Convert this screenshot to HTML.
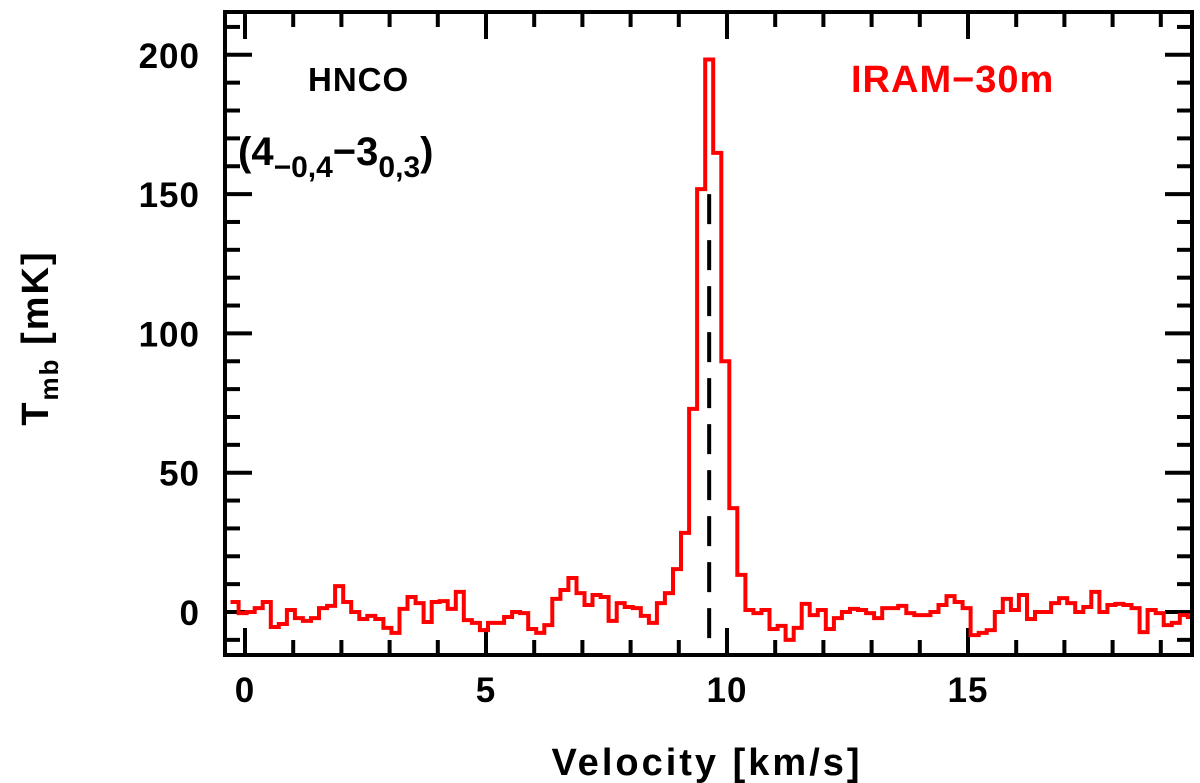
<!DOCTYPE html>
<html><head><meta charset="utf-8"><style>
html,body{margin:0;padding:0;background:#fff;}
svg{display:block;font-family:"Liberation Sans",sans-serif;}
</style></head><body>
<svg id="chart" width="1200" height="783" viewBox="0 0 1200 783" xmlns="http://www.w3.org/2000/svg">
<defs><clipPath id="plotclip"><rect x="227" y="14" width="963" height="639"/></clipPath></defs>
<g id="ticks"></g>
<g id="series" clip-path="url(#plotclip)"></g>
<rect x="225" y="12" width="967" height="643" fill="none" stroke="#000" stroke-width="4"/>
<g id="labels" font-size="35" font-weight="bold" fill="#000" letter-spacing="1"></g>
<text x="308" y="91" font-size="33" font-weight="bold" letter-spacing="1" fill="#000">HNCO</text>
<text x="238" y="165" font-size="40" font-weight="bold" fill="#000">(4<tspan font-size="30" dy="12">−0,4</tspan><tspan dy="-12">−3</tspan><tspan font-size="30" dy="12">0,3</tspan><tspan dy="-12">)</tspan></text>
<text x="851" y="92" font-size="38" font-weight="bold" letter-spacing="1" fill="#ff0000">IRAM−30m</text>
<text x="707" y="775" font-size="38" font-weight="bold" letter-spacing="3" text-anchor="middle" fill="#000">Velocity [km/s]</text>
<text transform="translate(48,338) rotate(-90)" font-size="38" font-weight="bold" letter-spacing="2" text-anchor="middle" fill="#000">T<tspan font-size="26" dy="10">mb</tspan><tspan dy="-10"> [mK]</tspan></text>
</svg>
<script>
const xTicksMajor = [0, 5, 10, 15];
const yTicksMajor = [0, 50, 100, 150, 200];
const channelStart = -0.30;
const channelWidth = 0.1669;
const lineVelocity = 9.63;
const tmbValues = [3.6,
 -0.4,0,1.4,3.6,-5.4,-4.3,0.7,-2.2,-3.2,-2.2,1.4,2.2,9.3,3.6,0,-2.5,-1.4,-2.5,-5.7,-7.5,
 1.1,5.4,3.2,-3.6,3.6,3.9,1.1,7.2,-2.9,-3.9,-6.5,-3.9,-3.9,-1.8,0,-0.4,-6.1,-7.5,-4.7,
 4.7,7.9,12.2,6.8,2.5,6.1,5.4,-3.2,3.2,1.8,1.4,-1.4,-3.9,3.2,6.8,15.4,
 28.4,72.9,151.8,198.3,164.8,90,37.3,13.3,
 0.7,-0.4,0.7,-6.1,-5,-10,-5.7,2.9,-1.1,0.7,-6.1,-2.2,0,1.1,0.7,-0.4,-2.2,1.4,1.4,2.2,
 -0.4,-1.1,-1.1,0,2.5,5.7,3.6,1.4,-8.3,-7.5,-6.5,0,4.7,0.7,6.1,-2.5,0,0,3.2,5,3.2,0,
 1.8,7.2,0,2.5,2.9,2.5,1.4,-7.2,0.7,-0.4,-4.7,-3.9,-1.1,-1.8];

const L=225,R=1192,T=12,B=655;
function xs(v){return 245 + v*48.2;}
function ys(t){return 612 - t*2.786;}
const NS="http://www.w3.org/2000/svg";
function mk(tag,attrs,parent){const e=document.createElementNS(NS,tag);for(const k in attrs)e.setAttribute(k,attrs[k]);parent.appendChild(e);return e;}

const tg=document.getElementById('ticks');
const lg=document.getElementById('labels');
for(let v=0; v<=19; v++){
  const maj = v%5===0, len = maj?27:15, x=xs(v);
  const a=mk('line',{x1:x,x2:x,y1:B,y2:B-len,stroke:'#000','stroke-width':4},tg);
  
  
  const b=mk('line',{x1:x,x2:x,y1:T,y2:T+len,stroke:'#000','stroke-width':4},tg);
  
  
}
for(let t=-10; t<=210; t+=10){
  const maj = t%50===0, len = maj?27:15, y=ys(t);
  const a=mk('line',{x1:L,x2:L+len,y1:y,y2:y,stroke:'#000','stroke-width':4},tg);
  
  
  const b=mk('line',{x1:R,x2:R-len,y1:y,y2:y,stroke:'#000','stroke-width':4},tg);
  
  
}
xTicksMajor.forEach(v=>{
  const t=mk('text',{x:xs(v),y:702,'text-anchor':'middle'},lg);
  t.textContent=v;
  
  
});
yTicksMajor.forEach(v=>{
  const t=mk('text',{x:200,y:ys(v)+13,'text-anchor':'end'},lg);
  t.textContent=v;
  
  
});

const sg=document.getElementById('series');
let d='';
tmbValues.forEach((val,i)=>{
  const x0=xs(channelStart+i*channelWidth), x1=xs(channelStart+(i+1)*channelWidth), y=ys(val);
  d += (i===0?'M':'L')+x0.toFixed(1)+','+y.toFixed(1)+'L'+x1.toFixed(1)+','+y.toFixed(1);
});
const p=mk('path',{d:d,fill:'none',stroke:'#ff0000','stroke-width':4,'stroke-linejoin':'miter'},sg);


const dl=mk('line',{x1:xs(lineVelocity),x2:xs(lineVelocity),y1:ys(150),y2:B,stroke:'#000','stroke-width':4,'stroke-dasharray':'30 16'},sg);


</script>
</body></html>
